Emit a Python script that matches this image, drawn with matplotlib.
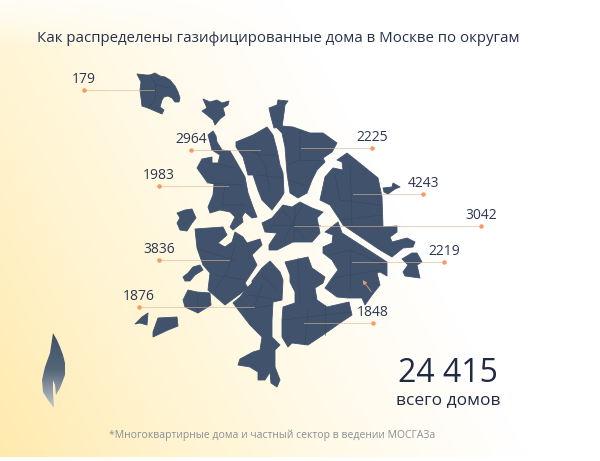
import numpy as np
import matplotlib
matplotlib.use('Agg')
import matplotlib.pyplot as plt
from matplotlib.patches import Polygon
from matplotlib.colors import LinearSegmentedColormap

plt.rcParams['font.family'] = ['Open Sans', 'DejaVu Sans']

title = 'Как распределены газифицированные дома в Москве по округам'
footnote = '*Многоквартирные дома и частный сектор в ведении МОСГАЗа'
total = '24 415'
total_label = 'всего домов'

# district outlines in pixels
zelenograd = [(137,74),(146,75),(150,75),(155,73),(160,76),(165,77),(170,80),(175,86),(178,92),(180,98),(179,102),(175,102),(172,98),(168,96),(164,97),(162,100),(160,107),(164,110),(162,114),(155,111),(148,108),(142,106),(141,98),(140,90),(141,82)]
zel_small = [(203,99),(210,102),(217,100),(222,103),(229,101),(228,105),(223,108),(225,115),(220,119),(215,125),(213,120),(207,115),(202,111),(207,108)]
north_west = [(208,135),(213,131),(216,136),(217,142),(222,150),(230,151),(237,163),(245,177),(248,193),(253,207),(257,217),(252,218),(245,212),(242,217),(243,222),(233,230),(230,227),(235,217),(230,212),(220,210),(210,213),(208,207),(213,195),(214,184),(207,182),(202,175),(197,168),(202,159),(212,157),(212,163),(218,163),(220,155),(212,150)]
nw_small = [(177,213),(185,210),(192,209),(196,218),(192,223),(187,231),(180,230),(177,223),(180,218)]
north = [(236,142),(253,135),(267,127),(273,135),(277,150),(280,165),(283,173),(284,193),(281,198),(272,210),(262,200),(258,190),(253,175),(248,175),(243,157),(236,147)]
spike = [(269,108),(277,105),(278,100),(288,101),(285,105),(284,113),(282,127),(274,128),(271,117)]
north_east = [(277,128),(282,126),(293,127),(310,133),(323,133),(330,138),(337,143),(332,152),(323,158),(325,162),(317,170),(312,180),(307,193),(298,198),(290,193),(287,173),(285,147),(282,133)]
east = [(347,153),(362,165),(378,178),(382,197),(383,227),(397,226),(397,232),(390,237),(392,242),(407,238),(415,242),(413,247),(403,248),(392,257),(380,250),(343,225),(340,220),(330,205),(320,200),(325,177),(333,168),(343,170),(342,162),(337,160)]
east_small = [(383,188),(392,187),(393,183),(400,187),(395,189),(388,194),(384,192)]
center = [(262,223),(272,218),(283,205),(292,207),(300,202),(312,208),(323,212),(317,218),(320,233),(312,242),(293,242),(277,250),(269,250),(269,245),(277,233),(265,232)]
south_east = [(325,232),(338,222),(342,233),(387,262),(387,276),(380,272),(377,273),(380,285),(372,295),(365,305),(362,298),(348,298),(337,297),(325,288),(332,278),(338,270),(332,260),(323,253),(323,247),(332,243),(333,235)]
se_small = [(402,259),(412,253),(417,253),(422,262),(417,265),(420,278),(405,276),(403,272),(408,265)]
south = [(285,262),(308,257),(312,268),(325,277),(323,283),(315,288),(317,300),(327,307),(349,302),(352,315),(340,323),(323,335),(308,345),(292,343),(288,347),(282,337),(282,320),(283,307),(295,303),(295,292),(290,282),(290,275)]
south_west = [(270,261),(280,272),(283,280),(282,300),(273,302),(272,320),(272,337),(280,345),(275,350),(275,367),(280,380),(277,387),(271,383),(270,372),(265,380),(258,380),(258,372),(250,367),(238,365),(240,359),(253,352),(260,350),(262,337),(250,325),(233,303),(240,297),(247,288),(252,283),(252,281),(262,268)]
west = [(195,229),(223,227),(227,235),(218,243),(225,247),(232,242),(235,232),(243,237),(247,243),(260,239),(262,245),(252,255),(257,265),(245,283),(248,288),(225,305),(208,290),(210,273),(203,265),(197,248)]
west_small = [(183,277),(188,273),(193,267),(200,265),(203,270),(195,275),(190,281),(185,281)]
novomosk = [(183,300),(188,290),(197,292),(210,293),(211,305),(198,313),(185,307)]
troitsk = [(158,318),(177,317),(178,326),(168,330),(153,337),(153,332)]
troitsk_small = [(135,324),(142,317),(148,313),(147,325),(140,323)]
districts = [zelenograd, zel_small, north_west, nw_small, north, spike, north_east, east, east_small,
             center, south_east, se_small, south, south_west, west, west_small, novomosk, troitsk, troitsk_small]

# a few of the inner borders
borders = [
    [(150,75),(156,85),(170,88)], [(156,85),(155,100),(148,108)],
    [(212,163),(235,168)], [(207,183),(243,185)], [(225,185),(222,205),(245,205)],
    [(255,150),(265,165),(270,190)], [(245,150),(262,155),(277,155)], [(258,175),(283,178)],
    [(300,130),(300,160),(288,165)], [(300,160),(320,160)], [(288,180),(305,185)],
    [(335,175),(340,200),(381,205)], [(350,165),(352,225)], [(340,220),(382,215)],
    [(295,207),(294,242)], [(272,225),(320,225)], [(283,210),(305,240)], [(302,205),(285,238)],
    [(330,255),(350,250),(385,265)], [(350,250),(350,290)], [(350,275),(380,270)], [(333,278),(350,275)],
    [(298,258),(300,303)], [(283,320),(350,312)], [(308,310),(305,345)], [(325,305),(325,335)],
    [(262,275),(277,290)], [(250,295),(280,300)], [(245,310),(272,305)], [(262,285),(255,305)],
    [(200,250),(235,260)], [(235,245),(228,270)], [(215,275),(245,280)], [(228,270),(215,290)],
    [(197,293),(198,313)],
]

# value, dot x, dot y, far end of the leader
labels = ['179', '2964', '1983', '3836', '1876', '2225', '4243', '3042', '2219', '1848']
dot_x = [84, 191, 159, 159, 139, 372, 423, 481, 444, 373]
dot_y = [90, 150, 186, 260, 307, 148, 194, 226, 262, 323]
line_end = [154, 260, 228, 229, 254, 301, 353, 294, 352, 304]

flame = [(53,333),(57,340),(60,347),(63,355),(65,363),(65,375),(60,388),(56,395),(55,385),(53,380),(53,392),(54,408),(48,400),(43,392),(42,380),(45,367),(50,353)]

fig = plt.figure(figsize=(6, 4.61), dpi=100)
ax = fig.add_axes([0, 0, 1, 1])
ax.set_xlim(0, 600)
ax.set_ylim(461, 0)
ax.axis('off')

# background fades from pale yellow at the lower left to white
yy, xx = np.mgrid[0:457, 0:600]
fade = np.clip(1 - (xx / 530.0 + (457 - yy) / 1000.0), 0, 1) * np.clip(yy / 70.0 + 0.3, 0, 1)
bg_cmap = LinearSegmentedColormap.from_list('bg', ['#ffffff', '#fffaea', '#fff4cf', '#ffeaad'])
ax.imshow(fade, cmap=bg_cmap, vmin=0, vmax=1, extent=(0, 600, 457, 0), aspect='auto', zorder=0)
ax.set_xlim(0, 600)
ax.set_ylim(461, 0)

for shape in districts:
    ax.add_patch(Polygon(shape, closed=True, facecolor='#40526c', edgecolor='#40526c', lw=0.6, joinstyle='round', zorder=2))
for b in borders:
    xs, ys = zip(*b)
    ax.plot(xs, ys, color='#37475e', lw=0.4, zorder=3)

for lab, x, y, end in zip(labels, dot_x, dot_y, line_end):
    ax.plot([x, end], [y, y], color='#e0b48e', lw=0.7, alpha=0.6, zorder=4)
    ax.plot([x], [y], 'o', color='#f79a5e', ms=2.2, zorder=5)
    ax.text(x, y - 3, lab, ha='center', va='bottom', fontsize=10, color='#2c3850', zorder=6)

ax.annotate('', xy=(361, 278), xytext=(373, 294),
            arrowprops=dict(arrowstyle='-|>', color='#d9a078', lw=0.6, mutation_scale=6), zorder=5)

grad = np.linspace(0, 1, 100).reshape(-1, 1)
flame_cmap = LinearSegmentedColormap.from_list('flame', ['#3f5069', '#566679', '#c2c8cf'])
im = ax.imshow(grad, cmap=flame_cmap, extent=(40, 68, 408, 333), aspect='auto', zorder=2)
im.set_clip_path(Polygon(flame, closed=True, transform=ax.transData))
ax.set_xlim(0, 600)
ax.set_ylim(461, 0)

ax.text(37, 39, title, ha='left', va='center', fontsize=10.85, color='#26324a')
ax.text(448, 373, total, ha='center', va='center', fontsize=23, color='#1f2a44')
ax.text(448, 400, total_label, ha='center', va='center', fontsize=12.5, color='#1f2a44')
ax.text(272, 435, footnote, ha='center', va='center', fontsize=7.5, color='#8a8f96')

fig.savefig('out.png', dpi=100)
